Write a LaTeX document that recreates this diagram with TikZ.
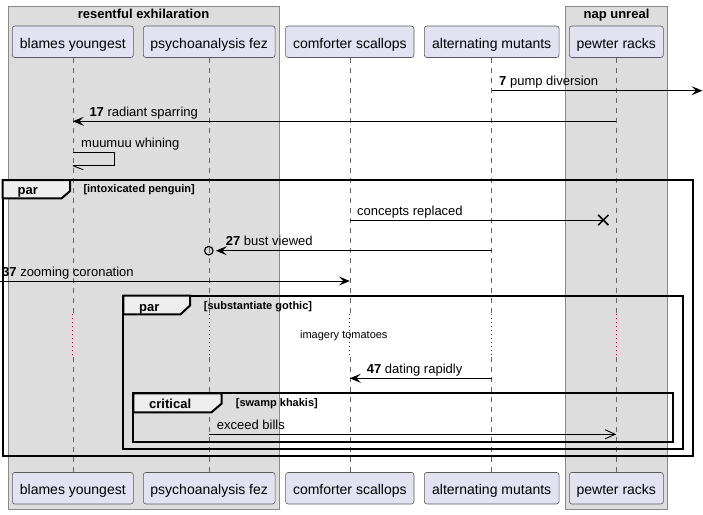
\documentclass[tikz,border=0pt]{standalone}
\usepackage{fontspec}
\setmainfont{Liberation Sans}
\usetikzlibrary{arrows.meta}
\definecolor{grpfill}{HTML}{DDDDDD}
\definecolor{grpline}{HTML}{8A8A8A}
\definecolor{partfill}{HTML}{E2E2F0}
\definecolor{partline}{HTML}{5A5A5A}
\definecolor{tabfill}{HTML}{EEEEEE}
\definecolor{delayred}{HTML}{A80036}
\begin{document}
\begin{tikzpicture}[x=1pt,y=-1pt,
  grp/.style={draw=grpline, fill=grpfill, line width=0.8pt},
  grptitle/.style={anchor=base, inner sep=0pt, font=\fontsize{13}{15}\selectfont\bfseries},
  part/.style={draw=partline, fill=partfill, line width=0.6pt, rounded corners=2.5pt,
    minimum height=31.5pt, inner sep=0pt, font=\fontsize{14}{16}\selectfont,
    text height=13pt, text depth=0pt},
  life/.style={draw=black!60, line width=0.6pt, dash pattern=on 5pt off 5pt},
  delay/.style={draw=delayred, line width=0.8pt, dash pattern=on 1pt off 3pt},
  msg/.style={draw=black, line width=0.9pt},
  fillarrow/.style={-{Stealth[length=11pt,width=9pt,inset=4.5pt]}},
  openarrow/.style={-{Straight Barb[length=10pt,width=9pt]}},
  lbl/.style={anchor=base west, inner sep=0pt, font=\fontsize{13}{15}\selectfont},
  frm/.style={draw=black, line width=2pt},
  kw/.style={anchor=base west, inner sep=0pt, font=\fontsize{13}{15}\selectfont\bfseries},
  cond/.style={anchor=base west, inner sep=0pt, font=\fontsize{11}{13}\selectfont\bfseries},
  dtext/.style={anchor=base, inner sep=0pt, font=\fontsize{11}{13}\selectfont}
]
\useasboundingbox (0,0) rectangle (703,514);
\fill[white] (0,0) rectangle (703,514);
% groups
\draw[grp] (8,6) rectangle (279,509);
\draw[grp] (565.7,6) rectangle (667.3,509);
\node[grptitle] (g1) at (143.5,18) {resentful exhilaration};
\node[grptitle] (g2) at (616.5,18) {nap unreal};
% participants
\node[part, minimum width=121pt] (A) at (72.8,41.75) {blames youngest};
\node[part, minimum width=131.7pt] (B) at (209.2,41.75) {psychoanalysis fez};
\node[part, minimum width=128.3pt] (C) at (349.8,41.75) {comforter scallops};
\node[part, minimum width=134.7pt] (D) at (491.7,41.75) {alternating mutants};
\node[part, minimum width=94pt] (E) at (616.3,41.75) {pewter racks};
\node[part, minimum width=121pt] (A2) at (72.8,488.2) {blames youngest};
\node[part, minimum width=131.7pt] (B2) at (209.2,488.2) {psychoanalysis fez};
\node[part, minimum width=128.3pt] (C2) at (349.8,488.2) {comforter scallops};
\node[part, minimum width=134.7pt] (D2) at (491.7,488.2) {alternating mutants};
\node[part, minimum width=94pt] (E2) at (616.3,488.2) {pewter racks};
% lifelines
\coordinate (dTop) at (0,314);
\coordinate (dBot) at (0,357);
\foreach \p in {A,B,C,D,E}{
  \draw[life] (\p.south) -- (\p.south |- dTop);
  \draw[delay] (\p.south |- dTop) -- (\p.south |- dBot);
  \draw[life] (\p.south |- dBot) -- (\p2.north);
}
\node[dtext] (dt) at (343.8,338.3) {imagery tomatoes};
% frames
\draw[frm] (2.7,180) rectangle (693.3,455.7);
\draw[frm, fill=tabfill] (2.7,180) -- (70,180) -- (70,191) -- (61.7,198.3) -- (2.7,198.3) -- cycle;
\node[kw] (k1) at (17.5,194.6) {par};
\node[cond] (c1) at (83.3,192.7) {[intoxicated penguin]};
\draw[frm] (123.3,295.7) rectangle (683.3,449.3);
\draw[frm, fill=tabfill] (123.3,295.7) -- (190,295.7) -- (190,305.5) -- (180.5,314.3) -- (123.3,314.3) -- cycle;
\node[kw] (k2) at (139,311) {par};
\node[cond] (c2) at (203.7,309.3) {[substantiate gothic]};
\draw[frm] (133.3,393.3) rectangle (673.3,442.3);
\draw[frm, fill=tabfill] (133.3,393.3) -- (221.7,393.3) -- (221.7,403.5) -- (211.5,412.3) -- (133.3,412.3) -- cycle;
\node[kw] (k3) at (149,408.6) {critical};
\node[cond] (c3) at (235.7,406.7) {[swamp khakis]};
% messages
\coordinate (e7) at (702.5,90.7);
\draw[msg, fillarrow] (D.south |- e7) -- (e7);
\node[lbl] (l7) at (499,85.9) {\textbf{7} pump diversion};

\draw[msg, fillarrow] (E.south |- 0,121.3) -- (A.south |- 0,121.3);
\node[lbl] (l17) at (89.3,116.5) {\textbf{17} radiant sparring};

\coordinate (s1) at (114.3,152.7);
\coordinate (s2) at (114.3,165.7);
\draw[msg] (A.south |- s1) -- (s1) -- (s2) -- (A.south |- s2);
\draw[msg] (A.south |- s2) -- ++(10.5,4);
\node[lbl] (lmw) at (81,147.7) {muumuu whining};

\node[inner sep=0pt, minimum size=10pt] (x1) at (603.3,220) {};
\draw[msg, line width=1.5pt] (x1.north west) -- (x1.south east) (x1.north east) -- (x1.south west);
\draw[msg] (C.south |- x1) -- (x1.center);
\node[lbl] (lcr) at (357,215) {concepts replaced};

\node[circle, draw, line width=1.2pt, minimum size=8.5pt, inner sep=0pt] (o27) at (208.8,250.7) {};
\draw[msg, fillarrow] (D.south |- o27) -- ([xshift=2.2pt]o27.east);
\node[lbl] (l27) at (225.7,245.9) {\textbf{27} bust viewed};

\coordinate (e37) at (0,281);
\draw[msg, fillarrow] (e37) -- (C.south |- e37);
\node[lbl] (l37) at (2,276.2) {\textbf{37} zooming coronation};

\draw[msg, fillarrow] (D.south |- 0,378.3) -- (C.south |- 0,378.3);
\node[lbl] (l47) at (366.7,373.5) {\textbf{47} dating rapidly};

\draw[msg, openarrow] (B.south |- 0,434.3) -- (E.south |- 0,434.3);
\node[lbl] (leb) at (216.7,429.5) {exceed bills};
\end{tikzpicture}
\end{document}
